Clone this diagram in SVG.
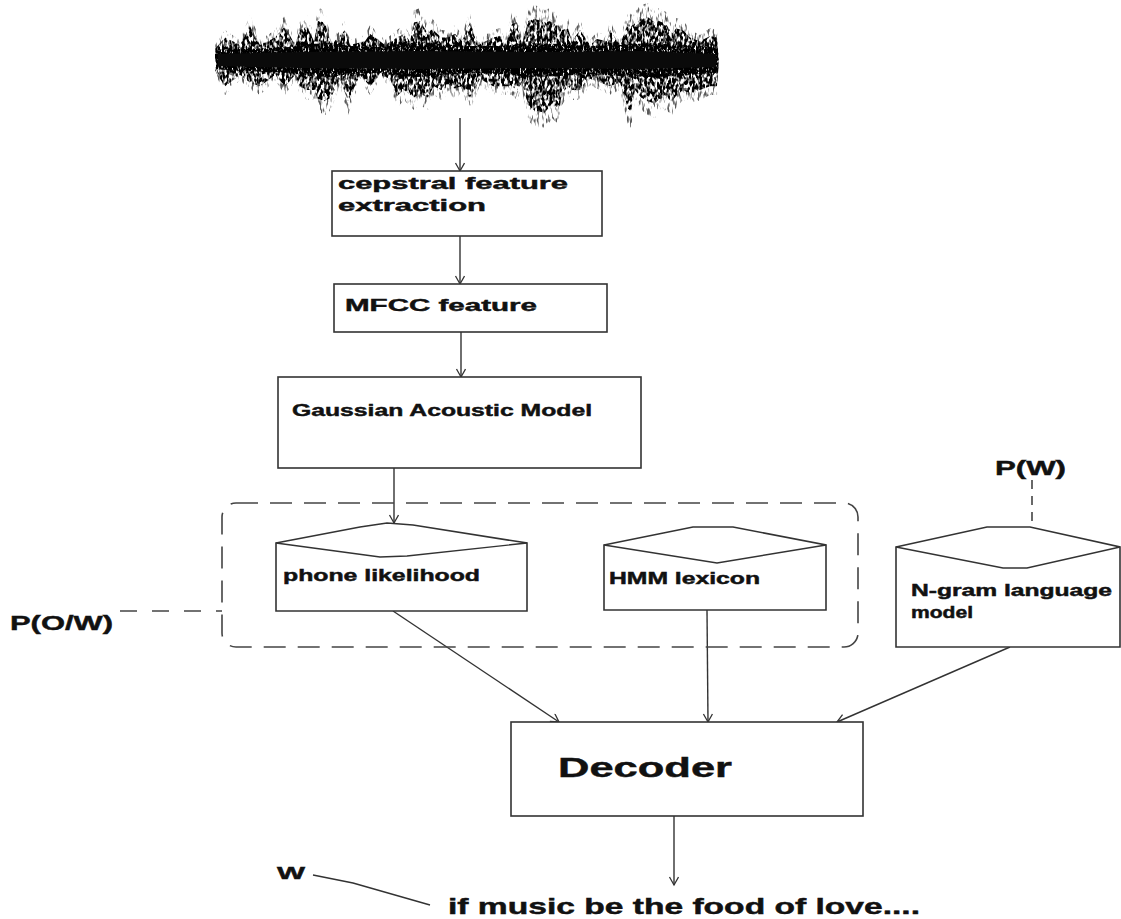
<svg xmlns="http://www.w3.org/2000/svg" xmlns:xlink="http://www.w3.org/1999/xlink" width="1121" height="919" viewBox="0 0 1121 919">
<style>
.bx{fill:#fff;stroke:#333;stroke-width:1.6}
.ln{fill:none;stroke:#333;stroke-width:1.4}
.ds{fill:none;stroke:#444;stroke-width:1.6}
.t{font-family:"Liberation Sans",Arial,sans-serif;font-weight:bold;fill:#111;stroke:#111;stroke-width:0.45}
</style>
<defs>
<marker id="ah" markerWidth="12" markerHeight="12" refX="9" refY="5" orient="auto" markerUnits="userSpaceOnUse">
<path d="M1,0.5 L9,5 L1,9.5" fill="none" stroke="#333" stroke-width="1.3"/>
</marker>
<filter id="sparse" x="-5%" y="-5%" width="110%" height="110%">
<feTurbulence type="fractalNoise" baseFrequency="0.4 0.12" numOctaves="2" seed="7" result="t"/>
<feColorMatrix in="t" type="matrix" values="0 0 0 0 0.1  0 0 0 0 0.1  0 0 0 0 0.1  5 0 0 0 -2.6" result="m"/>
<feComposite in="m" in2="SourceAlpha" operator="in"/>
</filter>
<filter id="dense" x="-5%" y="-5%" width="110%" height="110%">
<feTurbulence type="fractalNoise" baseFrequency="0.4 0.14" numOctaves="2" seed="11" result="t"/>
<feColorMatrix in="t" type="matrix" values="0 0 0 0 0  0 0 0 0 0  0 0 0 0 0  5 0 0 0 -1.9" result="m"/>
<feComposite in="m" in2="SourceAlpha" operator="in"/>
</filter>
<filter id="core" x="-5%" y="-20%" width="110%" height="140%">
<feTurbulence type="fractalNoise" baseFrequency="0.6 0.3" numOctaves="2" seed="3" result="t"/>
<feColorMatrix in="t" type="matrix" values="0 0 0 0 0  0 0 0 0 0  0 0 0 0 0  5 0 0 0 -1.5" result="m"/>
<feComposite in="m" in2="SourceAlpha" operator="in"/>
</filter>
<polygon id="env" points="215,45 225,30 240,40 250,15 260,40 275,30 285,15 295,40 300,20 307,15 314,35 318,8 325,10 331,40 345,20 350,40 365,35 370,25 385,40 397,30 404,25 410,35 414,10 420,8 428,25 432,18 441,30 448,30 455,25 462,35 470,10 478,40 493,30 500,28 505,40 512,12 517,10 522,40 528,8 535,5 545,10 550,8 559,15 562,20 568,18 572,35 580,20 590,40 597,32 607,35 610,20 620,40 628,10 631,15 641,5 648,3 655,10 659,8 666,12 672,25 676,18 683,20 690,30 700,35 710,28 717,30 719,60 717,95 710,95 700,100 690,105 683,100 676,108 672,115 666,110 659,112 655,118 648,115 641,110 635,100 631,128 628,125 620,90 610,95 600,90 590,85 580,100 572,100 568,95 562,105 559,125 552,118 545,130 535,128 528,120 522,90 517,100 512,95 500,95 493,95 480,85 470,110 462,95 455,98 448,95 441,100 434,95 428,110 420,105 414,110 404,100 397,108 390,85 380,80 370,95 360,80 348,115 340,85 331,110 325,115 318,112 314,100 307,100 300,95 295,80 285,95 275,80 260,95 250,90 240,80 225,95 215,75"/>
</defs>

<g id="waveform">
<use xlink:href="#env" href="#env" filter="url(#sparse)"/>
<use xlink:href="#env" href="#env" transform="matrix(1 0 0 0.75 0 15)" filter="url(#dense)"/>
<path d="M216,51 L240,49 L270,48 L290,47 L310,44 L330,43 L350,46 L380,47 L400,44 L420,42 L440,44 L470,46 L500,46 L530,43 L560,44 L590,46 L620,45 L650,43 L680,45 L700,46 L718,48 L718,73 L700,74 L680,76 L650,77 L620,76 L590,74 L560,76 L530,77 L500,74 L470,73 L440,75 L420,77 L400,76 L380,73 L350,74 L330,77 L310,76 L290,73 L270,72 L240,71 L216,69 Z" fill="#000" filter="url(#core)"/>
<path d="M218,54 L300,52 L420,51 L540,52 L640,51 L716,54 L716,67 L640,69 L540,68 L420,69 L300,68 L218,66 Z" fill="#0a0a0a"/>
</g>

<g id="connectors">
<line class="ln" x1="460" y1="118" x2="460" y2="171" marker-end="url(#ah)"/>
<line class="ln" x1="460" y1="236" x2="460" y2="284" marker-end="url(#ah)"/>
<line class="ln" x1="461" y1="332" x2="461" y2="377" marker-end="url(#ah)"/>
<line class="ln" x1="394" y1="468" x2="394" y2="523" marker-end="url(#ah)"/>
<line class="ln" x1="393" y1="611" x2="559" y2="722" marker-end="url(#ah)"/>
<line class="ln" x1="707" y1="610" x2="708" y2="722" marker-end="url(#ah)"/>
<line class="ln" x1="1010" y1="647" x2="837" y2="722" marker-end="url(#ah)"/>
<line class="ln" x1="674" y1="816" x2="674" y2="885" marker-end="url(#ah)"/>
<polyline class="ln" points="313,875 353,883 430,905"/>
<line class="ds" x1="120" y1="611" x2="222" y2="611" stroke-dasharray="17 15"/>
<line class="ds" x1="1032" y1="480" x2="1032" y2="527" stroke-dasharray="9 7"/>
</g>

<g id="group-pow">
<rect class="ds" x="222" y="503" width="636" height="144" rx="14" stroke-dasharray="22 12"/>
</g>

<g id="cepstral">
<rect class="bx" x="332" y="171" width="270" height="65"/>
<text class="t" x="338" y="189" font-size="17" textLength="230" lengthAdjust="spacingAndGlyphs">cepstral feature</text>
<text class="t" x="338" y="211" font-size="17" textLength="148" lengthAdjust="spacingAndGlyphs">extraction</text>
</g>

<g id="mfcc">
<rect class="bx" x="334" y="284" width="273" height="48"/>
<text class="t" x="345" y="311" font-size="17" textLength="192" lengthAdjust="spacingAndGlyphs">MFCC feature</text>
</g>

<g id="gaussian">
<rect class="bx" x="278" y="377" width="363" height="91"/>
<text class="t" x="292" y="416" font-size="17" textLength="300" lengthAdjust="spacingAndGlyphs">Gaussian Acoustic Model</text>
</g>

<g id="phone">
<path class="bx" d="M276,543 L360,527 L387,523 L413,525 L527,543 L527,611 L276,611 Z"/>
<path class="ln" d="M276,543 L380,557 L407,556 L527,543"/>
<text class="t" x="283" y="581" font-size="16" textLength="197" lengthAdjust="spacingAndGlyphs">phone likelihood</text>
</g>

<g id="hmm">
<path class="bx" d="M604,545 L693,527 L733,527 L826,545 L826,610 L604,610 Z"/>
<path class="ln" d="M604,545 L717,563 L826,545"/>
<text class="t" x="609" y="584" font-size="16" textLength="151" lengthAdjust="spacingAndGlyphs">HMM lexicon</text>
</g>

<g id="ngram">
<path class="bx" d="M896,547 L987,527 L1030,527 L1120,547 L1120,647 L896,647 Z"/>
<path class="ln" d="M896,547 L1003,568 L1027,568 L1120,547"/>
<text class="t" x="911" y="596" font-size="16" textLength="201" lengthAdjust="spacingAndGlyphs">N-gram language</text>
<text class="t" x="911" y="618" font-size="16" textLength="62" lengthAdjust="spacingAndGlyphs">model</text>
</g>

<g id="decoder">
<rect class="bx" x="511" y="722" width="352" height="94"/>
<text class="t" x="558" y="777" font-size="28" textLength="174" lengthAdjust="spacingAndGlyphs">Decoder</text>
</g>

<g id="labels">
<text class="t" x="995" y="475" font-size="20" textLength="71" lengthAdjust="spacingAndGlyphs">P(W)</text>
<text class="t" x="10" y="630" font-size="21" textLength="103" lengthAdjust="spacingAndGlyphs">P(O/W)</text>
<text class="t" x="277" y="879" font-size="17" textLength="28" lengthAdjust="spacingAndGlyphs">W</text>
<text class="t" x="448" y="914" font-size="22" textLength="472" lengthAdjust="spacingAndGlyphs">if music be the food of love....</text>
</g>
</svg>
